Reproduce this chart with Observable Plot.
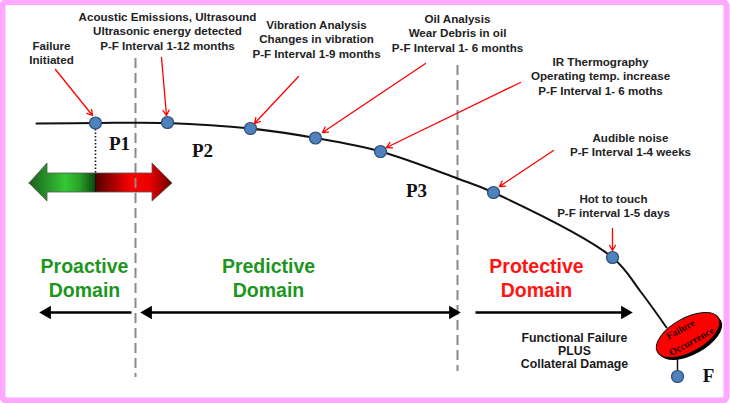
<!DOCTYPE html>
<html>
<head>
<meta charset="utf-8">
<script src="https://cdn.jsdelivr.net/npm/d3@7"></script>
<script src="https://cdn.jsdelivr.net/npm/@observablehq/plot@0.6"></script>
<style>
  html, body { margin: 0; padding: 0; background: #fff; overflow: hidden; }
  svg { display: block; }
</style>
</head>
<body>
<div id="chart"></div>
<script>
// ---- data (diagram coordinates on a 730 x 403 canvas) ----
const curveX = [36, 95, 166, 250, 315, 380, 457, 493, 612, 640, 666];
const curveY = [123, 122.5, 122.5, 128, 137.5, 151, 178, 192, 257, 291, 327];

const dotLabels = ["Failure Initiated", "Acoustic", "Vibration", "Oil", "IR", "Audible", "Hot", "F"];
const dotX = [95, 167, 250, 315, 380, 493, 612, 677];
const dotY = [122.5, 122, 128, 137.5, 151, 192, 257, 376];

const noteTexts = [
  "Failure\nInitiated",
  "Acoustic Emissions, Ultrasound\nUltrasonic energy detected\nP-F Interval 1-12 months",
  "Vibration Analysis\nChanges in vibration\nP-F Interval 1-9 months",
  "Oil Analysis\nWear Debris in oil\nP-F Interval 1- 6 months",
  "IR Thermography\nOperating temp. increase\nP-F Interval 1- 6 moths",
  "Audible noise\nP-F Interval 1-4 weeks",
  "Hot to touch\nP-F interval 1-5 days"
];
const noteX = [51, 167, 316, 457, 600, 630, 613];
const noteY = [39, 10, 18, 12, 55, 131, 192];

const pointerX1 = [55, 161, 298, 425, 520, 553, 612];
const pointerY1 = [69, 57, 76, 63, 82, 150, 228];
const pointerX2 = [92, 166, 254, 322, 386, 499, 612];
const pointerY2 = [115, 115, 123, 132, 147, 186, 250];

const phaseLabels = ["P1", "P2", "P3", "F"];
const phaseX = [119, 202, 416, 708];
const phaseY = [149, 156, 196, 381];

const domainNames = ["Proactive\nDomain", "Predictive\nDomain", "Protective\nDomain"];
const domainX = [84, 268, 536];
const domainY = [255, 255, 255];
const domainColors = ["#1e961e", "#1e961e", "#ff1414"];

const dividerX = [135, 457];
const dividerTop = [58, 65];
const dividerBottom = [377, 371];

// domain arrows along y = 312
const spanStart = [131, 143, 475];
const spanEnd = [42, 457, 629];
const spanY = 312;
const leftHeadX = [42, 143];
const rightHeadX = [457, 629];

// green/red double arrow outline
const bigArrowX = [29, 47, 47, 152, 152, 172];
const bigArrowTop = [183, 163, 173, 173, 163, 183];
const bigArrowBottom = [183, 201, 192, 192, 201, 183];

const failureText = "Functional Failure\nPLUS\nCollateral Damage";
const ellipseWords = ["Failure", "Occurrence"];
const ellipseWordX = [680, 691];
const ellipseWordY = [329, 341];

// ellipse "Failure Occurrence"
const ellipseCx = 688, ellipseCy = 335, ellipseRx = 35, ellipseRy = 17, ellipseAngle = -29;

// ---- build tables ----
const curve = curveX.map((x, i) => ({x, y: curveY[i]}));
const dots = dotX.map((x, i) => ({name: dotLabels[i], x, y: dotY[i]}));
const notes = noteTexts.map((t, i) => ({t, x: noteX[i], y: noteY[i]}));
const pointers = pointerX1.map((x1, i) => ({x1, y1: pointerY1[i], x2: pointerX2[i], y2: pointerY2[i]}));
const phases = phaseLabels.map((t, i) => ({t, x: phaseX[i], y: phaseY[i]}));
const domains = domainNames.map((t, i) => ({t, x: domainX[i], y: domainY[i], c: domainColors[i]}));
const dividers = dividerX.map((x, i) => ({x, y1: dividerTop[i], y2: dividerBottom[i]}));
const spanLines = spanStart.map((s, i) => ({x1: s, x2: spanEnd[i], y1: spanY, y2: spanY}));
const leftHeads = leftHeadX.map(x => ({x, y: spanY}));
const rightHeads = rightHeadX.map(x => ({x, y: spanY}));
const bigArrow = bigArrowX.map((x, i) => ({x, y1: bigArrowTop[i], y2: bigArrowBottom[i]}));
const ellipseLabels = ellipseWords.map((t, i) => ({t, x: ellipseWordX[i], y: ellipseWordY[i]}));

const sans = "Arial, 'Liberation Sans', sans-serif";
const serif = "'Times New Roman', 'Liberation Serif', serif";

const defs = () => {
  const g = d3.create("svg:g");
  const d = g.append("defs");
  const lg = d.append("linearGradient").attr("id", "bigGrad")
    .attr("gradientUnits", "userSpaceOnUse").attr("x1", 29).attr("x2", 172).attr("y1", 0).attr("y2", 0);
  const stops = [
    [29, "#1c5f1c"], [65, "#34c834"], [80, "#27a027"], [94.5, "#0f4a0f"],
    [95.5, "#520000"], [132, "#ff0000"], [150, "#e80000"], [172, "#6a0000"]
  ];
  stops.forEach(([x, c]) => lg.append("stop").attr("offset", ((x - 29) / 143)).attr("stop-color", c));
  return g.node();
};

const ellipseMark = (index, scales) => {
  const g = d3.create("svg:g");
  const cx = scales.x(ellipseCx), cy = scales.y(ellipseCy);
  g.append("ellipse").attr("cx", cx + 2.5).attr("cy", cy + 2.5).attr("rx", ellipseRx).attr("ry", ellipseRy)
    .attr("transform", `rotate(${ellipseAngle} ${cx + 2.5} ${cy + 2.5})`).attr("fill", "#000");
  g.append("ellipse").attr("cx", cx).attr("cy", cy).attr("rx", ellipseRx).attr("ry", ellipseRy)
    .attr("transform", `rotate(${ellipseAngle} ${cx} ${cy})`).attr("fill", "#ff0000").attr("stroke", "#111").attr("stroke-width", 1);
  return g.node();
};

const chart = Plot.plot({
  width: 730,
  height: 403,
  margin: 0,
  x: {domain: [0, 730], range: [0, 730], axis: null},
  y: {domain: [0, 403], range: [0, 403], axis: null},
  style: {background: "#fff"},
  marks: [
    defs,
    // pink frame
    Plot.rect([{x1: 2.5, x2: 726.5, y1: 2, y2: 400.5}], {x1: "x1", x2: "x2", y1: "y1", y2: "y2", fill: "none", stroke: "#ffa8ff", strokeWidth: 6, rx: 4}),
    // green/red double arrow
    Plot.areaY(bigArrow, {x: "x", y1: "y1", y2: "y2", curve: "linear", fill: "url(#bigGrad)", stroke: "#555", strokeWidth: 0.8}),
    Plot.ruleX([95], {y1: 174, y2: 192, stroke: "#111", strokeWidth: 1.2}),
    // dotted drop line
    Plot.ruleX([95], {y1: 129, y2: 173, stroke: "#111", strokeWidth: 1.6, strokeDasharray: "1.5,2"}),
    // dashed dividers
    Plot.ruleX(dividers, {x: "x", y1: "y1", y2: "y2", stroke: "#8a8a8a", strokeWidth: 2, strokeDasharray: "10,5"}),
    // P-F curve
    Plot.line(curve, {x: "x", y: "y", curve: "catmull-rom", stroke: "#111", strokeWidth: 2}),
    // connector to F
    Plot.link([{x1: 677, y1: 355, x2: 677, y2: 376}], {x1: "x1", y1: "y1", x2: "x2", y2: "y2", stroke: "#111", strokeWidth: 1.5}),
    ellipseMark,
    Plot.text(ellipseLabels, {
      x: "x", y: "y", text: "t", rotate: -29, fontFamily: serif, fontWeight: "bold", fontSize: 10, fill: "#2a0000"
    }),
    // detection dots
    Plot.dot(dots, {x: "x", y: "y", r: 6, fill: "#4f81bd", stroke: "#2c4d75", strokeWidth: 1.2}),
    // red pointers
    Plot.arrow(pointers, {x1: "x1", y1: "y1", x2: "x2", y2: "y2", stroke: "#ff0000", strokeWidth: 1.3, headLength: 7}),
    // domain span arrows
    Plot.link(spanLines, {x1: "x1", x2: "x2", y1: "y1", y2: "y2", stroke: "#000", strokeWidth: 2.5}),
    Plot.dot(leftHeads, {x: "x", y: "y", dx: 4.5, symbol: "triangle", rotate: -90, r: 5, fill: "#000"}),
    Plot.dot(rightHeads, {x: "x", y: "y", dx: -4.5, symbol: "triangle", rotate: 90, r: 5, fill: "#000"}),
    // annotation texts
    Plot.text(notes, {x: "x", y: "y", text: "t", lineAnchor: "top", textAnchor: "middle",
      fontFamily: sans, fontWeight: "bold", fontSize: 11.6, lineHeight: 1.25, fill: "#222"}),
    Plot.text([{t: failureText, x: 574, y: 332}], {x: "x", y: "y", text: "t", lineAnchor: "top", textAnchor: "middle",
      fontFamily: sans, fontWeight: "bold", fontSize: 12.3, lineHeight: 1.08, fill: "#1a1a1a"}),
    // phase labels
    Plot.text(phases, {x: "x", y: "y", text: "t", lineAnchor: "bottom", textAnchor: "middle",
      fontFamily: serif, fontWeight: "bold", fontSize: 19, fill: "#111"}),
    // domain labels
    Plot.text(domains, {x: "x", y: "y", text: "t", lineAnchor: "top", textAnchor: "middle",
      fontFamily: sans, fontWeight: "bold", fontSize: 19.5, lineHeight: 1.23, fill: (d) => d.c}),
  ]
});
document.getElementById("chart").appendChild(chart);
</script>
</body>
</html>
